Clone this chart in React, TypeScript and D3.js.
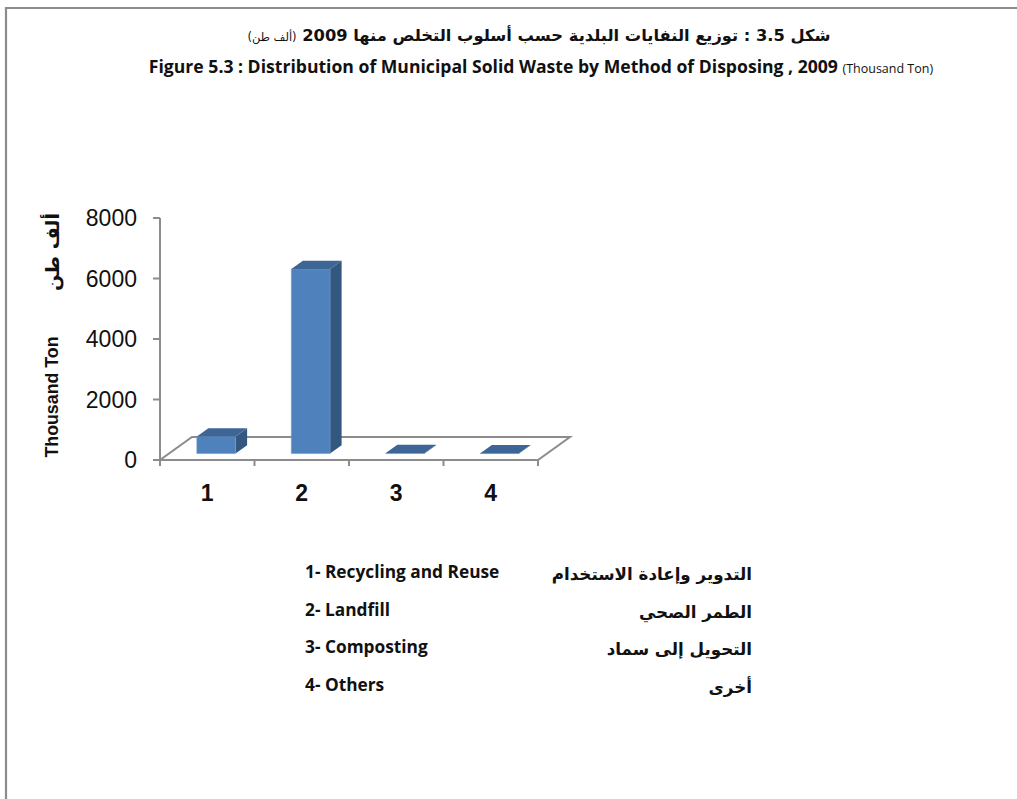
import React from "react";
import * as d3 from "d3";

const categories = ["1", "2", "3", "4"];
const values = [560, 6100, 15, 10];
const yTicks = [0, 2000, 4000, 6000, 8000];
const legendEn = ["1- Recycling and Reuse", "2- Landfill", "3- Composting", "4- Others"];
const legendAr = ["التدوير وإعادة الاستخدام", "الطمر الصحي", "التحويل إلى سماد", "أخرى"];
const titleAr = "شكل 3.5 : توزيع النفايات البلدية حسب أسلوب التخلص منها  2009 ";
const titleArUnit = "(ألف طن)";
const titleEn = "Figure 5.3 : Distribution of Municipal Solid Waste by Method of Disposing , 2009 ";
const titleEnUnit = "(Thousand Ton)";
const yTitleEn = "Thousand Ton";
const yTitleAr = "ألف طن";

const W = 1017;
const H = 799;
const AX = "#8c8c8c";
const FRONT = "#4F81BD";
const SIDE = "#34577F";
const TOP = "#3D6696";

export default function App() {
  const x = d3.scaleBand<string>().domain(categories).range([160, 538]).paddingInner(0).paddingOuter(0);
  const y = d3.scaleLinear().domain([0, 8000]).range([460, 218]);
  const depth = { dx: 32, dy: -23 };
  const f0 = 0.28;
  const f1 = 0.64;
  const bw = x.bandwidth() * 0.41;
  const ax = "Liberation Sans, Arial, sans-serif";
  const ar = "DejaVu Sans, sans-serif";
  const tf = "Open Sans, sans-serif";

  const floor = [
    [160, y(0)],
    [538, y(0)],
    [538 + depth.dx, y(0) + depth.dy],
    [160 + depth.dx, y(0) + depth.dy],
  ];
  const line = d3.line();

  const tickEdges = [...categories.map((c) => x(c) as number), 538];

  return (
    <div style={{ position: "absolute", left: 0, top: 0 }}>
      <svg width={W} height={H} style={{ display: "block", background: "#fff" }}>
        {/* frame */}
        <path d={`M6,${H} L6,8 L${W},8`} fill="none" stroke={AX} strokeWidth={2.2} />

        {/* titles */}
        <text x={539} y={41} textAnchor="middle" direction="rtl" fontFamily={ar} fontWeight="bold" fontSize={16.3} fill="#111">
          {titleAr}
          <tspan fontWeight="normal" fontSize={11.5}>{titleArUnit}</tspan>
        </text>
        <text x={541} y={73} textAnchor="middle" fontFamily={tf} fontSize={17.6} fill="#111">
          <tspan fontWeight="bold">{titleEn}</tspan>
          <tspan fontSize={12.5}>{titleEnUnit}</tspan>
        </text>

        {/* floor */}
        <path d={line(floor as [number, number][]) + "Z"} fill="#fff" stroke={AX} strokeWidth={2} />

        {/* y axis */}
        <line x1={160} x2={160} y1={y(8000)} y2={y(0)} stroke={AX} strokeWidth={2} />
        {yTicks.map((t) => (
          <g key={t}>
            <line x1={153} x2={160} y1={y(t)} y2={y(t)} stroke={AX} strokeWidth={2} />
            <text x={137} y={y(t)} dy="0.36em" textAnchor="end" fontFamily={ax} fontSize={23} fill="#111">
              {t}
            </text>
          </g>
        ))}

        {/* x ticks */}
        {tickEdges.map((e, i) => (
          <line key={i} x1={e} x2={e} y1={y(0)} y2={y(0) + 6} stroke={AX} strokeWidth={2} />
        ))}
        {categories.map((c) => (
          <text key={c} x={(x(c) as number) + x.bandwidth() / 2} y={493} dy="0.36em" textAnchor="middle" fontFamily={ax} fontWeight="bold" fontSize={23} fill="#111">
            {c}
          </text>
        ))}

        {/* bars */}
        {categories.map((c, i) => {
          const cx = (x(c) as number) + x.bandwidth() / 2;
          const l = cx - bw / 2 + f0 * depth.dx;
          const r = l + bw;
          const b = y(0) + f0 * depth.dy;
          const t = y(values[i]) + f0 * depth.dy;
          const ddx = (f1 - f0) * depth.dx;
          const ddy = (f1 - f0) * depth.dy;
          const front: [number, number][] = [[l, b], [r, b], [r, t], [l, t]];
          const side: [number, number][] = [[r, b], [r + ddx, b + ddy], [r + ddx, t + ddy], [r, t]];
          const top: [number, number][] = [[l, t], [r, t], [r + ddx, t + ddy], [l + ddx, t + ddy]];
          return (
            <g key={c}>
              <path d={line(side) + "Z"} fill={SIDE} />
              <path d={line(front) + "Z"} fill={FRONT} stroke="#6f9bd0" strokeWidth={0.6} />
              <path d={line(top) + "Z"} fill={TOP} />
            </g>
          );
        })}

        {/* y axis titles */}
        <text transform="translate(58,397) rotate(-90)" textAnchor="middle" fontFamily={ax} fontWeight="bold" fontSize={17.8} fill="#111">
          {yTitleEn}
        </text>
        <text transform="translate(59,252) rotate(-90)" textAnchor="middle" direction="rtl" fontFamily={ar} fontWeight="bold" fontSize={19} fill="#111">
          {yTitleAr}
        </text>

        {/* legend */}
        {legendEn.map((s, i) => (
          <g key={s}>
            <text x={305} y={578 + i * 37.7} fontFamily={tf} fontWeight="bold" fontSize={17.3} fill="#111">
              {s}
            </text>
            <text x={752} y={580 + i * 37.7} textAnchor="start" direction="rtl" fontFamily={ar} fontWeight="bold" fontSize={16.7} fill="#111">
              {legendAr[i]}
            </text>
          </g>
        ))}
      </svg>
    </div>
  );
}
